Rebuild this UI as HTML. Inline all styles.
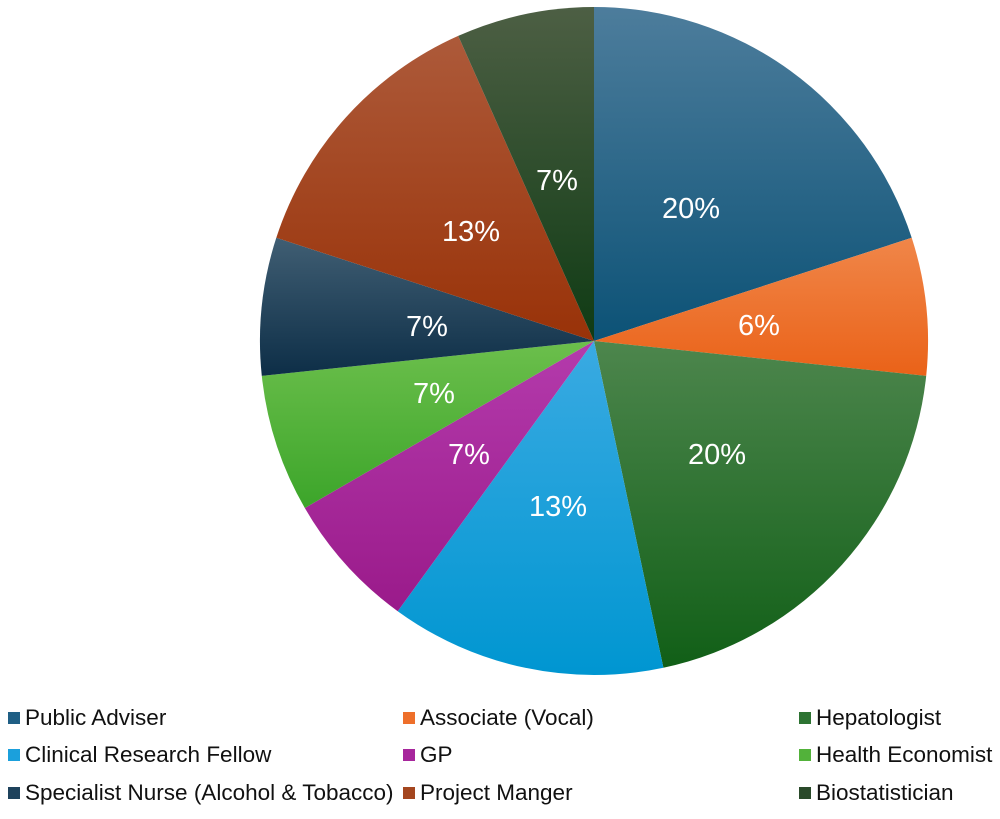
<!DOCTYPE html>
<html><head><meta charset="utf-8"><style>
body{margin:0;background:#fff;width:1000px;height:814px;overflow:hidden;font-family:"Liberation Sans",sans-serif;}
</style></head><body>
<svg width="1000" height="814" viewBox="0 0 1000 814" xmlns="http://www.w3.org/2000/svg">
<defs>
<linearGradient id="g1" x1="0" y1="0" x2="0" y2="1"><stop offset="0" stop-color="#4d7d9c"/><stop offset="1" stop-color="#0c5276"/></linearGradient>
<linearGradient id="g2" x1="0" y1="0" x2="0" y2="1"><stop offset="0" stop-color="#f08649"/><stop offset="1" stop-color="#ea6218"/></linearGradient>
<linearGradient id="g3" x1="0" y1="0" x2="0" y2="1"><stop offset="0" stop-color="#4d864d"/><stop offset="1" stop-color="#115f17"/></linearGradient>
<linearGradient id="g4" x1="0" y1="0" x2="0" y2="1"><stop offset="0" stop-color="#3aaae2"/><stop offset="1" stop-color="#0096d1"/></linearGradient>
<linearGradient id="g5" x1="0" y1="0" x2="0" y2="1"><stop offset="0" stop-color="#b43bac"/><stop offset="1" stop-color="#9a1a8a"/></linearGradient>
<linearGradient id="g6" x1="0" y1="0" x2="0" y2="1"><stop offset="0" stop-color="#6cbf4c"/><stop offset="1" stop-color="#3ca52a"/></linearGradient>
<linearGradient id="g7" x1="0" y1="0" x2="0" y2="1"><stop offset="0" stop-color="#405e73"/><stop offset="1" stop-color="#0d2e47"/></linearGradient>
<linearGradient id="g8" x1="0" y1="0" x2="0" y2="1"><stop offset="0" stop-color="#ad5a3a"/><stop offset="1" stop-color="#993208"/></linearGradient>
<linearGradient id="g9" x1="0" y1="0" x2="0" y2="1"><stop offset="0" stop-color="#4d5f44"/><stop offset="1" stop-color="#0f3b14"/></linearGradient>
</defs>
<g>
<path d="M594,341 L594,7 A334,334 0 0 1 911.7,237.8 Z" fill="url(#g1)"/>
<path d="M594,341 L911.7,237.8 A334,334 0 0 1 926.2,375.9 Z" fill="url(#g2)"/>
<path d="M594,341 L926.2,375.9 A334,334 0 0 1 663.4,667.7 Z" fill="url(#g3)"/>
<path d="M594,341 L663.4,667.7 A334,334 0 0 1 397.7,611.2 Z" fill="url(#g4)"/>
<path d="M594,341 L397.7,611.2 A334,334 0 0 1 304.8,508 Z" fill="url(#g5)"/>
<path d="M594,341 L304.8,508 A334,334 0 0 1 261.8,375.9 Z" fill="url(#g6)"/>
<path d="M594,341 L261.8,375.9 A334,334 0 0 1 276.3,237.8 Z" fill="url(#g7)"/>
<path d="M594,341 L276.3,237.8 A334,334 0 0 1 458.2,35.9 Z" fill="url(#g8)"/>
<path d="M594,341 L458.2,35.9 A334,334 0 0 1 594,7 Z" fill="url(#g9)"/>
</g>
<g fill="#fff" font-size="29" text-anchor="middle" font-family="Liberation Sans, sans-serif">
<text x="691" y="218">20%</text>
<text x="759" y="335">6%</text>
<text x="717" y="464">20%</text>
<text x="558" y="516">13%</text>
<text x="469" y="464">7%</text>
<text x="434" y="403">7%</text>
<text x="427" y="336">7%</text>
<text x="471" y="241">13%</text>
<text x="557" y="190">7%</text>
</g>
<g font-size="22.5" fill="#111" font-family="Liberation Sans, sans-serif">
<rect x="8" y="712" width="12" height="12" fill="#1f5f85"/><text x="25" y="725">Public Adviser</text>
<rect x="403" y="712" width="12" height="12" fill="#ee6f2a"/><text x="420" y="725">Associate (Vocal)</text>
<rect x="799" y="712" width="12" height="12" fill="#2d7332"/><text x="816" y="725">Hepatologist</text>
<rect x="8" y="749" width="12" height="12" fill="#1ba0dc"/><text x="25" y="762">Clinical Research Fellow</text>
<rect x="403" y="749" width="12" height="12" fill="#a7269c"/><text x="420" y="762">GP</text>
<rect x="799" y="749" width="12" height="12" fill="#52b23a"/><text x="816" y="762">Health Economist</text>
<rect x="8" y="787" width="12" height="12" fill="#1e425c"/><text x="25" y="800">Specialist Nurse (Alcohol &amp; Tobacco)</text>
<rect x="403" y="787" width="12" height="12" fill="#a4461f"/><text x="420" y="800">Project Manger</text>
<rect x="799" y="787" width="12" height="12" fill="#2a4a2a"/><text x="816" y="800">Biostatistician</text>
</g>
</svg>
</body></html>
